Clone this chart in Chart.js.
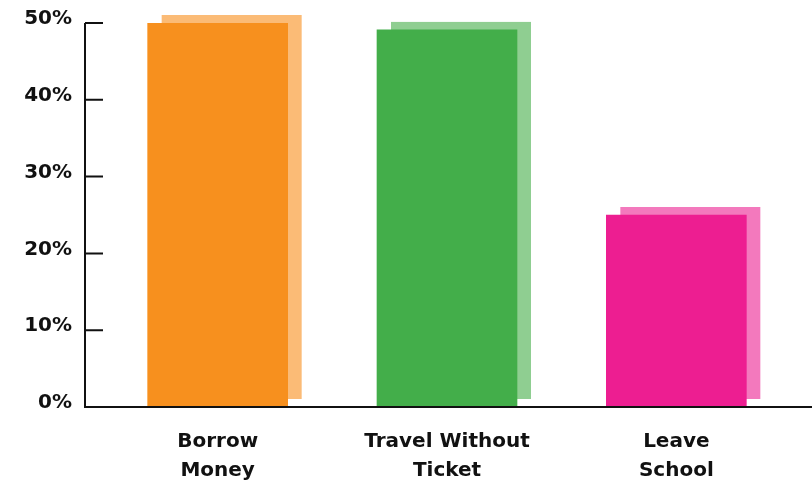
<!DOCTYPE html>
<html>
<head>
<meta charset="utf-8">
<script src="https://cdn.jsdelivr.net/npm/chart.js@4/dist/chart.umd.min.js"></script>
<style>
  html, body { margin: 0; padding: 0; background: #fff; }
  #wrap { width: 812px; height: 480px; }
</style>
</head>
<body>
<div id="wrap"><canvas id="barChart" width="812" height="480"></canvas></div>
<script>
// --- DATA ---
const categories = [['Borrow', 'Money'], ['Travel Without', 'Ticket'], ['Leave', 'School']];
const shares = [50, 49.1, 25];
const barColors = ['#F7901E', '#43AE4A', '#ED1E91'];
const shadowColors = ['#FBBB76', '#8FCE91', '#F379BD'];
const yTicks = [0, 10, 20, 30, 40, 50];

const FONT = { family: 'DejaVu Sans', weight: 'bold', size: 20 };
const AXIS_GAP = 18;     // y axis line sits this far left of the plot area
const SHADOW_DX = 14;
const SHADOW_DY = 8;

// lighter copy of each bar, nudged up and right, drawn underneath
const shadowPlugin = {
    id: 'barShadow',
    beforeDatasetsDraw(chart) {
        const ctx = chart.ctx;
        const meta = chart.getDatasetMeta(0);
        ctx.save();
        meta.data.forEach((bar, i) => {
            const p = bar.getProps(['x', 'y', 'base', 'width'], true);
            ctx.fillStyle = shadowColors[i];
            ctx.fillRect(p.x - p.width / 2 + SHADOW_DX, p.y - SHADOW_DY, p.width, p.base - p.y);
        });
        ctx.restore();
    }
};

// axis lines with inward tick marks
const axesPlugin = {
    id: 'axesLines',
    afterDatasetsDraw(chart) {
        const ctx = chart.ctx;
        const y = chart.scales.y;
        const ax = chart.chartArea.left - AXIS_GAP;
        const y0 = y.getPixelForValue(0);
        const yTop = y.getPixelForValue(yTicks[yTicks.length - 1]);
        ctx.save();
        ctx.strokeStyle = '#111';
        ctx.lineWidth = 2;
        ctx.beginPath();
        ctx.moveTo(ax, yTop);
        ctx.lineTo(ax, y0);
        ctx.lineTo(chart.width, y0);
        yTicks.forEach(v => {
            const py = y.getPixelForValue(v);
            ctx.moveTo(ax, py);
            ctx.lineTo(chart.chartArea.left, py);
        });
        ctx.stroke();
        ctx.restore();
    }
};

const ctx = document.getElementById('barChart').getContext('2d');
new Chart(ctx, {
    type: 'bar',
    data: {
        labels: categories,
        datasets: [{
            data: shares,
            backgroundColor: barColors,
            borderWidth: 0,
            barThickness: 140
        }]
    },
    options: {
        responsive: false,
        animation: false,
        layout: { padding: { top: 23, right: 21, left: 0, bottom: 0 } },
        plugins: { legend: { display: false }, tooltip: { enabled: false } },
        scales: {
            x: {
                afterFit: (scale) => { scale.height = 73; scale.paddingLeft = 0; scale.paddingRight = 0; },
                grid: { display: false, drawTicks: false },
                border: { display: false },
                ticks: { color: '#111', font: { ...FONT, lineHeight: 1.45 }, padding: 20, maxRotation: 0 }
            },
            y: {
                min: 0,
                max: 50,
                afterFit: (scale) => { scale.width = 103; scale.paddingTop = 0; scale.paddingBottom = 0; },
                afterBuildTicks: (scale) => { scale.ticks = yTicks.map(v => ({ value: v })); },
                grid: { display: false, drawTicks: false },
                border: { display: false },
                ticks: {
                    color: '#111',
                    font: FONT,
                    padding: 31,
                    labelOffset: -4,
                    callback: (v) => v + '%'
                }
            }
        }
    },
    plugins: [shadowPlugin, axesPlugin]
});
</script>
</body>
</html>
